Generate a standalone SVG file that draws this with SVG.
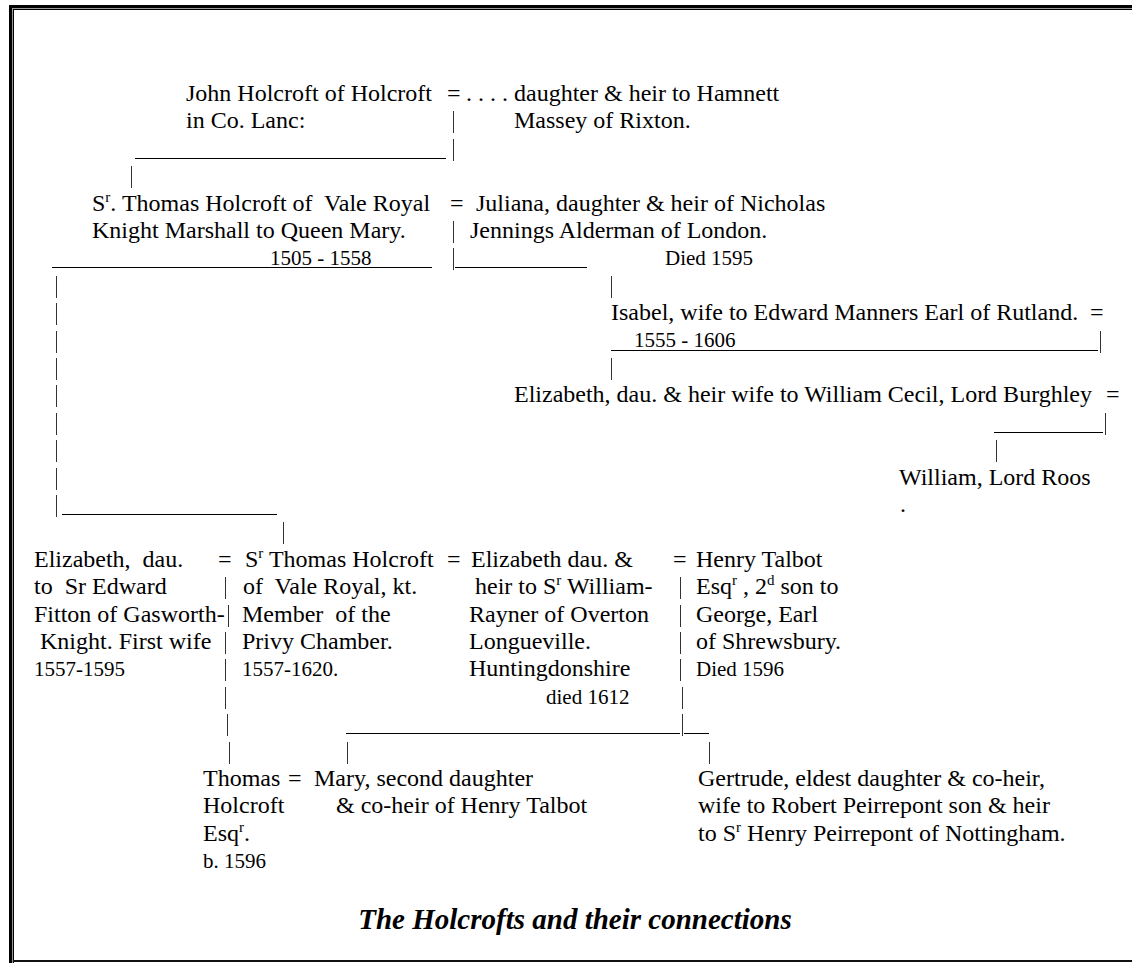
<svg xmlns="http://www.w3.org/2000/svg" width="1132" height="963" viewBox="0 0 1132 963">
<style>
text{font-family:"Liberation Serif","Times New Roman",serif;font-size:24px;fill:#000;white-space:pre}
.s{font-size:21px}
.sup{font-size:15px}
.title{font-size:29px;font-weight:bold;font-style:italic}
.p{stroke:#333;stroke-width:1}
.u{stroke:#000;stroke-width:1}
</style>
<rect width="1132" height="963" fill="#fff"/>
<g id="frame">
<rect x="9" y="5" width="1123" height="3" fill="#000"/>
<rect x="9" y="5" width="3" height="958" fill="#000"/>
<rect x="12" y="8" width="1120" height="1" fill="#999"/>
<rect x="12" y="8" width="1" height="955" fill="#999"/>
<rect x="13" y="9" width="1119" height="1" fill="#000"/>
<rect x="13" y="9" width="1" height="954" fill="#000"/>
<rect x="13" y="960" width="1119" height="2" fill="#111"/>
</g>
<g id="connectors">
<text x="447" y="101">=</text>
<text x="450" y="211">=</text>
<text x="1090" y="320">=</text>
<text x="1106" y="402">=</text>
<text x="218" y="567">=</text>
<text x="447" y="567">=</text>
<text x="673" y="567">=</text>
<text x="288" y="786">=</text>
<line class="u" x1="135" y1="158.5" x2="446" y2="158.5"/>
<line class="u" x1="52" y1="267.5" x2="432" y2="267.5"/>
<line class="u" x1="455" y1="267.5" x2="587" y2="267.5"/>
<line class="u" x1="611" y1="350.5" x2="1098" y2="350.5"/>
<line class="u" x1="994" y1="432.5" x2="1103" y2="432.5"/>
<line class="u" x1="62" y1="514.5" x2="277" y2="514.5"/>
<line class="u" x1="346" y1="733.5" x2="680" y2="733.5"/>
<line class="u" x1="684" y1="733.5" x2="709" y2="733.5"/>
<line class="p" x1="453.5" y1="111" x2="453.5" y2="133"/>
<line class="p" x1="453.5" y1="139" x2="453.5" y2="161"/>
<line class="p" x1="131.5" y1="166" x2="131.5" y2="188"/>
<line class="p" x1="453.5" y1="221" x2="453.5" y2="243"/>
<line class="p" x1="453.5" y1="248" x2="453.5" y2="270"/>
<line class="p" x1="56.5" y1="276" x2="56.5" y2="298"/>
<line class="p" x1="611.5" y1="276" x2="611.5" y2="298"/>
<line class="p" x1="56.5" y1="303" x2="56.5" y2="325"/>
<line class="p" x1="56.5" y1="331" x2="56.5" y2="353"/>
<line class="p" x1="1100.5" y1="331" x2="1100.5" y2="353"/>
<line class="p" x1="56.5" y1="358" x2="56.5" y2="380"/>
<line class="p" x1="611.5" y1="358" x2="611.5" y2="380"/>
<line class="p" x1="56.5" y1="385" x2="56.5" y2="407"/>
<line class="p" x1="56.5" y1="413" x2="56.5" y2="435"/>
<line class="p" x1="1105.5" y1="413" x2="1105.5" y2="435"/>
<line class="p" x1="56.5" y1="440" x2="56.5" y2="462"/>
<line class="p" x1="996.5" y1="440" x2="996.5" y2="462"/>
<line class="p" x1="56.5" y1="468" x2="56.5" y2="490"/>
<line class="p" x1="56.5" y1="495" x2="56.5" y2="517"/>
<line class="p" x1="283.5" y1="522" x2="283.5" y2="544"/>
<line class="p" x1="225.5" y1="577" x2="225.5" y2="599"/>
<line class="p" x1="680.5" y1="577" x2="680.5" y2="599"/>
<line class="p" x1="228.5" y1="605" x2="228.5" y2="627"/>
<line class="p" x1="680.5" y1="605" x2="680.5" y2="627"/>
<line class="p" x1="225.5" y1="632" x2="225.5" y2="654"/>
<line class="p" x1="680.5" y1="632" x2="680.5" y2="654"/>
<line class="p" x1="225.5" y1="659" x2="225.5" y2="681"/>
<line class="p" x1="680.5" y1="659" x2="680.5" y2="681"/>
<line class="p" x1="225.5" y1="687" x2="225.5" y2="709"/>
<line class="p" x1="682.5" y1="687" x2="682.5" y2="709"/>
<line class="p" x1="227.5" y1="714" x2="227.5" y2="736"/>
<line class="p" x1="682.5" y1="714" x2="682.5" y2="736"/>
<line class="p" x1="229.5" y1="742" x2="229.5" y2="764"/>
<line class="p" x1="347.5" y1="742" x2="347.5" y2="764"/>
<line class="p" x1="709.5" y1="742" x2="709.5" y2="764"/>
</g>
<g id="john-holcroft">
<text x="186" y="101">John Holcroft of Holcroft</text>
<text x="186" y="128">in Co. Lanc:</text>
</g>
<g id="massey-heiress">
<text x="466" y="101">. . . .</text>
<text x="514" y="101">daughter &amp; heir to Hamnett</text>
<text x="514" y="128">Massey of Rixton.</text>
</g>
<g id="thomas-holcroft-marshall">
<text x="92" y="211">S<tspan class="sup" dy="-9">r</tspan><tspan dy="9">. Thomas Holcroft of  Vale Royal</tspan></text>
<text x="92" y="238">Knight Marshall to Queen Mary.</text>
<text class="s" x="270" y="265">1505 - 1558</text>
</g>
<g id="juliana-jennings">
<text x="476" y="211">Juliana, daughter &amp; heir of Nicholas</text>
<text x="470" y="238">Jennings Alderman of London.</text>
<text class="s" x="665" y="265">Died 1595</text>
</g>
<g id="isabel">
<text x="611" y="320">Isabel, wife to Edward Manners Earl of Rutland.</text>
<text class="s" x="634" y="347">1555 - 1606</text>
</g>
<g id="elizabeth-burghley">
<text x="514" y="402">Elizabeth, dau. &amp; heir wife to William Cecil, Lord Burghley</text>
</g>
<g id="william-roos">
<text x="899" y="485">William, Lord Roos</text>
<text x="900" y="512">.</text>
</g>
<g id="elizabeth-fitton">
<text x="34" y="567">Elizabeth,  dau.</text>
<text x="34" y="594">to  Sr Edward</text>
<text x="34" y="622">Fitton of Gasworth-</text>
<text x="40" y="649">Knight. First wife</text>
<text class="s" x="34" y="676">1557-1595</text>
</g>
<g id="thomas-holcroft-kt">
<text x="245" y="567">S<tspan class="sup" dy="-9">r</tspan><tspan dy="9"> Thomas Holcroft</tspan></text>
<text x="243" y="594">of  Vale Royal, kt.</text>
<text x="242" y="622">Member  of the</text>
<text x="242" y="649">Privy Chamber.</text>
<text class="s" x="242" y="676">1557-1620.</text>
</g>
<g id="elizabeth-rayner">
<text x="471" y="567">Elizabeth dau. &amp;</text>
<text x="475" y="594">heir to S<tspan class="sup" dy="-9">r</tspan><tspan dy="9"> William-</tspan></text>
<text x="469" y="622">Rayner of Overton</text>
<text x="469" y="649">Longueville.</text>
<text x="469" y="676">Huntingdonshire</text>
<text class="s" x="546" y="704">died 1612</text>
</g>
<g id="henry-talbot">
<text x="696" y="567">Henry Talbot</text>
<text x="696" y="594">Esq<tspan class="sup" dy="-9">r</tspan><tspan dy="9"> , 2</tspan><tspan class="sup" dy="-9">d</tspan><tspan dy="9"> son to</tspan></text>
<text x="696" y="622">George, Earl</text>
<text x="696" y="649">of Shrewsbury.</text>
<text class="s" x="696" y="676">Died 1596</text>
</g>
<g id="thomas-holcroft-esq">
<text x="203" y="786">Thomas</text>
<text x="203" y="813">Holcroft</text>
<text x="203" y="841">Esq<tspan class="sup" dy="-9">r</tspan><tspan dy="9">.</tspan></text>
<text class="s" x="203" y="868">b. 1596</text>
</g>
<g id="mary-talbot">
<text x="314" y="786">Mary, second daughter</text>
<text x="336" y="813">&amp; co-heir of Henry Talbot</text>
</g>
<g id="gertrude-talbot">
<text x="698" y="786">Gertrude, eldest daughter &amp; co-heir,</text>
<text x="698" y="813">wife to Robert Peirrepont son &amp; heir</text>
<text x="698" y="841">to S<tspan class="sup" dy="-9">r</tspan><tspan dy="9"> Henry Peirrepont of Nottingham.</tspan></text>
</g>
<g id="caption">
<text class="title" x="575" y="929" text-anchor="middle">The Holcrofts and their connections</text>
</g>
</svg>
